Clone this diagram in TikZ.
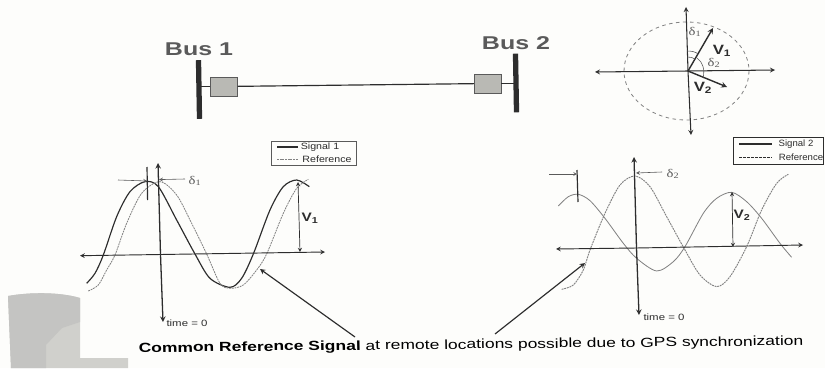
\documentclass[tikz,border=0pt]{standalone}
\usepackage{fontspec}
\setmainfont{Liberation Sans}
\newfontfamily\grkfont{Liberation Serif}
\usepackage{xcolor}
\usetikzlibrary{arrows}
\usetikzlibrary{scopes}

\newcommand{\dlt}[1]{{\grkfont δ\textsubscript{#1}}}

\begin{document}
\begin{tikzpicture}[x=0.03cm,y=-0.03cm,
	txt/.style={xscale=1.25,inner sep=0pt,text=ink},
	busname/.style={txt,xscale=1.08,text=inkb,font=\fontsize{15.8}{18}\selectfont\bfseries},
	small/.style={txt,font=\fontsize{7.8}{9}\selectfont},
	bold/.style={txt,font=\fontsize{10.5}{12}\selectfont\bfseries},
	greek/.style={txt,text=inkb,font=\fontsize{10}{12}\selectfont},
	busbar/.style={fill=ink,draw=none,minimum width=4.5pt,minimum height=50pt,inner sep=0pt,rotate=1},
	relay/.style={fill=relayg,draw=inkb,line width=0.4pt,minimum width=23pt,minimum height=16pt,inner sep=0pt},
	legend/.style={draw=inkb,line width=0.6pt,fill=paper,inner sep=0pt}]

\definecolor{paper}{RGB}{253,253,251};
\definecolor{ink}{RGB}{45,45,45};
\definecolor{inkb}{RGB}{90,90,90};
\definecolor{relayg}{RGB}{185,185,180};
\definecolor{sigg}{RGB}{130,130,130};
\definecolor{patcha}{RGB}{196,196,194};
\definecolor{patchb}{RGB}{208,208,204};

\useasboundingbox (0,0) rectangle (825,368);
\fill [paper] (0,0) rectangle (825,368);

%grey patch
\fill [patchb] (8,296) .. controls (30,292) and (60,292) .. (80,298) -- (80,358) -- (128,358) -- (128,368) -- (11,368) -- cycle;
\fill [patcha] (8,296) .. controls (30,292) and (60,292) .. (80,298) -- (80,322) -- (62,328) -- (46,345) -- (46,368) -- (11,368) -- cycle;

%one line diagram
\node [busbar] (bus1) at (199,89.5) {};
\node [busbar] (bus2) at (516,83) {};
\node [relay] (relay1) at (224,86.5) {};
\node [relay] (relay2) at (487.5,83.5) {};
\node [busname] (busa) at (199,49) {Bus 1};
\node [busname] (busb) at (516,43) {Bus 2};
{[draw=ink,line width=1pt]
	\draw (relay1) -- (bus1 |- relay1);
	\draw (relay2) -- (bus2 |- relay2);
	\draw (relay1) -- (relay2);
}

%phasors
\coordinate (o) at (688,71);
\coordinate (pu) at (686,7);
\coordinate (pd) at (691,135);
\coordinate (pl) at (595,72);
\coordinate (pr) at (775,70);
\coordinate (v1) at (713,28);
\coordinate (v2) at (727,87);
\draw [dashed,draw=sigg,line width=0.7pt] (686.5,71) ellipse (62.5 and 49);
{[->,>=stealth,line width=0.9pt,draw=ink]
	\draw (o) -- (pu);
	\draw (o) -- (pd);
	\draw (o) -- (pl);
	\draw (o) -- (pr);
}
{[->,>=stealth,line width=1.2pt,draw=ink]
	\draw (o) -- (v1);
	\draw (o) -- (v2);
}
{[draw=inkb,line width=0.5pt]
	\draw (687,51) .. controls (692,51) and (696,52) .. (698,54);
	\draw (687.3,57) .. controls (690,57) and (693,57.5) .. (695,59);
	\draw (697,58) .. controls (703,62) and (705,70) .. (703,78);
}
\node [greek] (d1) at (695,32) {\dlt{1}};
\node [greek] (d2) at (714,63) {\dlt{2}};
\node [bold,font=\fontsize{11.5}{14}\selectfont\bfseries] (lv1) at (722,51) {V\textsubscript{1}};
\node [bold,font=\fontsize{11.5}{14}\selectfont\bfseries] (lv2) at (703,88) {V\textsubscript{2}};

%signal 1
{[shift={(70,130)},xscale=0.3333,yscale=0.3333]
	\draw [draw=ink,line width=1pt] plot [smooth] coordinates {(50,460) (75,430) (100,375) (140,260) (180,185) (225,155) (265,170) (320,270) (375,372) (420,445) (480,472) (515,445) (550,372) (600,240) (640,170) (680,150) (718,170)};
	\draw [dashed,dash pattern=on 1.6pt off 0.7pt,draw=sigg,line width=0.7pt] plot [smooth] coordinates {(55,483) (85,465) (110,420) (135,375) (170,280) (215,190) (270,155) (320,195) (365,280) (410,372) (450,460) (480,475) (520,465) (560,420) (590,372) (640,250) (680,175) (715,148)};
}
\coordinate (a1l) at (80,255.7);
\coordinate (a1r) at (325,252);
\coordinate (a1u) at (158,163);
\coordinate (a1d) at (163,322);
\coordinate (a1o) at (160.5,254.5);
\coordinate (t1u) at (147,167);
\coordinate (t1d) at (147.6,200);
\coordinate (t1m) at (147.2,181);
\coordinate (m1a) at (118,180);
\coordinate (m1b) at (185,179);
\coordinate (m1c) at (159,179.6);
\coordinate (h1a) at (298,182);
\coordinate (h1b) at (300,252);
{[->,>=stealth,line width=0.8pt,draw=ink]
	\draw (a1o) -- (a1l);
	\draw (a1o) -- (a1r);
	\draw [line width=1.1pt] (a1o) -- (a1u);
	\draw [line width=1.1pt] (a1o) -- (a1d);
}
\draw [draw=ink,line width=1pt] (t1u) -- (t1d);
{[->,>=stealth,line width=0.5pt,draw=inkb]
	\draw (m1a) -- (t1m);
	\draw (m1b) -- (m1c);
}
\draw [<->,>=stealth,line width=0.6pt,draw=ink] (h1a) -- (h1b);
\node [greek] (d1b) at (195,181) {\dlt{1}};
\node [bold] (lv1b) at (310,218) {V\textsubscript{1}};
\node [small] (time1) at (187,323) {time = 0};

%legend 1
\node [legend,minimum width=73pt,minimum height=21pt] (leg1) at (314,153.5) {};
\coordinate (l1a) at (277,147);
\coordinate (l1b) at (298,147);
\coordinate (l1c) at (277,159);
\coordinate (l1d) at (298,159);
\draw [draw=ink,line width=1pt] (l1a) -- (l1b);
\draw [dashed,dash pattern=on 1.6pt off 0.7pt,draw=sigg,line width=0.7pt] (l1c) -- (l1d);
\node [small,xscale=0.93] (sig1) at (320,147.5) {Signal 1};
\node [small,xscale=0.93] (ref1) at (327,159) {Reference};

%signal 2
{[shift={(490,130)},xscale=0.3333,yscale=0.3333]
	\draw [draw=sigg,line width=0.7pt] plot [smooth] coordinates {(205,228) (235,200) (265,193) (300,212) (345,265) (400,340) (440,385) (500,423) (550,395) (585,350) (640,250) (680,205) (725,187) (770,215) (815,265) (870,340) (905,382)};
	\draw [dashed,dash pattern=on 1.6pt off 0.7pt,draw=sigg,line width=0.8pt] plot [smooth] coordinates {(215,478) (250,465) (280,420) (300,360) (345,250) (390,165) (435,138) (480,170) (530,260) (585,360) (630,435) (680,470) (720,440) (770,350) (815,240) (860,160) (895,133)};
}
\coordinate (a2l) at (556,249);
\coordinate (a2r) at (803,245);
\coordinate (a2u) at (634,157);
\coordinate (a2d) at (639,315);
\coordinate (a2o) at (636.5,248);
\coordinate (t2u) at (577,170);
\coordinate (t2d) at (578,202);
\coordinate (t2m) at (577.2,174);
\coordinate (m2a) at (549,174);
\coordinate (m2b) at (662,172);
\coordinate (m2c) at (636,173);
\coordinate (h2a) at (732,192);
\coordinate (h2b) at (733,247);
{[->,>=stealth,line width=0.8pt,draw=ink]
	\draw (a2o) -- (a2l);
	\draw (a2o) -- (a2r);
	\draw [line width=1.1pt] (a2o) -- (a2u);
	\draw [line width=1.1pt] (a2o) -- (a2d);
}
\draw [draw=ink,line width=1pt] (t2u) -- (t2d);
{[->,>=stealth,line width=0.5pt,draw=inkb]
	\draw (m2a) -- (t2m);
	\draw (m2b) -- (m2c);
}
\draw [<->,>=stealth,line width=0.6pt,draw=ink] (h2a) -- (h2b);
\node [greek] (d2b) at (673,174) {\dlt{2}};
\node [bold] (lv2b) at (742,215) {V\textsubscript{2}};
\node [small] (time2) at (664,317) {time = 0};

%legend 2
\node [legend,draw=ink,minimum width=77pt,minimum height=23pt] (leg2) at (778,150.5) {};
\coordinate (l2a) at (739,144);
\coordinate (l2b) at (772,144);
\coordinate (l2c) at (739,157);
\coordinate (l2d) at (772,157);
\draw [draw=ink,line width=1.6pt] (l2a) -- (l2b);
\draw [dashed,dash pattern=on 2.4pt off 1pt,draw=ink,line width=0.8pt] (l2c) -- (l2d);
\node [small,xscale=0.84] (sig2) at (796,144) {Signal 2};
\node [small,xscale=0.84] (ref2) at (801,157) {Reference};

%caption
\node [txt,xscale=1.055,font=\fontsize{11.3}{13}\selectfont,text=black,rotate=0.8] (cap) at (471,345.5) {\textbf{Common Reference Signal} at remote locations possible due to GPS synchronization};
\coordinate (c1) at (355,337);
\coordinate (c2) at (495,334);
\coordinate (c1t) at (260,269);
\coordinate (c2t) at (585,263);
{[->,>=stealth,line width=1pt,draw=ink]
	\draw (c1) -- (c1t);
	\draw (c2) -- (c2t);
}

\end{tikzpicture}
\end{document}
